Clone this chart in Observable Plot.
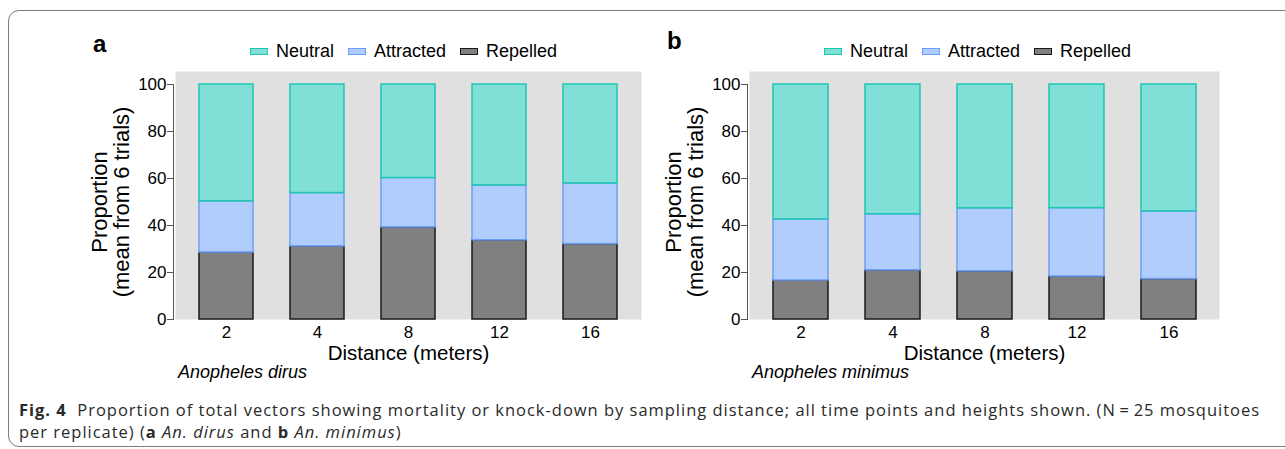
<!DOCTYPE html>
<html><head><meta charset="utf-8">
<script src="https://cdn.jsdelivr.net/npm/d3@7"></script>
<script src="https://cdn.jsdelivr.net/npm/@observablehq/plot@0.6"></script>
<style>
body{margin:0;background:#fff;width:1285px;height:449px;overflow:hidden;position:relative;font-family:"Liberation Sans",Arial,sans-serif;}
#box{position:absolute;left:8px;top:10px;width:1300px;height:437px;border:1.3px solid #7c7c7c;border-radius:11px;box-sizing:border-box;}
.panel{position:absolute;top:0;}
.plabel{position:absolute;font-weight:bold;font-size:24px;line-height:24px;color:#000}
.species{position:absolute;font-style:italic;font-size:18px;line-height:18px;top:363px;color:#000}
.legend{position:absolute;display:flex;align-items:center;font-size:18px;height:20px;top:41px;color:#000}
.legend .item{display:flex;align-items:center;margin-right:14px}
.legend .sw{width:18px;height:7px;box-sizing:border-box;border:1.3px solid;margin-right:8px}
#caption{position:absolute;left:19px;font-family:"Open Sans",sans-serif;font-size:16.5px;line-height:22.5px;color:#2a2a2a;white-space:nowrap}
#caption div{display:block}
</style></head><body>
<div id="box"></div>
<div id="root"></div>
<div id="caption"><div id="cap1"><b>Fig. 4</b>&nbsp;&nbsp;Proportion of total vectors showing mortality or knock-down by sampling distance; all time points and heights shown. (N&#8201;=&#8201;25 mosquitoes</div><div id="cap2">per replicate) (<b>a</b> <i>An. dirus</i> and <b>b</b> <i>An. minimus</i>)</div></div>
<script>
const distances = ["2", "4", "8", "12", "16"];
const stackOrder = ["Repelled", "Attracted", "Neutral"];
const legendOrder = ["Neutral", "Attracted", "Repelled"];
const fillColors = {Neutral: "#80e0d8", Attracted: "#b0cdfd", Repelled: "#808080"};
const strokeColors = {Neutral: "#1ec6b2", Attracted: "#6d9ef5", Repelled: "#1a1a1a"};
const yTicks = [0, 20, 40, 60, 80, 100];

// Panel a: An. dirus
const dirusRepelled  = [28.5, 31.1, 39.2, 33.7, 32.1];
const dirusAttracted = [21.8, 22.7, 21.0, 23.4, 25.8];
const dirusNeutral   = [49.7, 46.2, 39.8, 42.9, 42.1];
// Panel b: An. minimus
const minimusRepelled  = [16.6, 20.9, 20.5, 18.3, 17.2];
const minimusAttracted = [26.0, 23.9, 26.8, 29.1, 28.8];
const minimusNeutral   = [57.4, 55.2, 52.7, 52.6, 54.0];

function buildPanel(series, innerWidth) {
  const data = [];
  distances.forEach((d, i) => {
    stackOrder.forEach(c => data.push({distance: d, category: c, value: series[c][i]}));
  });
  return Plot.plot({
    width: 175 + innerWidth + 19, height: 390,
    marginLeft: 175, marginRight: 19, marginTop: 84, marginBottom: 71,
    style: {fontFamily: "Liberation Sans, Arial, sans-serif", fontSize: "17px", color: "#000", background: "transparent", overflow: "visible"},
    x: {domain: distances, paddingInner: 0.405, paddingOuter: 0.25},
    y: {domain: [0, 100]},
    marks: [
      Plot.frame({fill: "#e0e0e0", stroke: "none", insetTop: -13}),
      Plot.barY(data, {x: "distance", y: "value", fill: d => fillColors[d.category], stroke: d => strokeColors[d.category], strokeWidth: 1.5}),
      Plot.frame({anchor: "left", stroke: "#555", dx: -2}),
      Plot.axisY(yTicks, {tickSize: 6, tickPadding: 1, dx: -2, fontSize: 17, label: null, stroke: "#555"}),
      Plot.axisY([], {label: "Proportion\n(mean from 6 trials)", labelAnchor: "center", labelOffset: 84, labelArrow: "none", fontSize: 22, tickSize: 0}),
      Plot.axisX({tickSize: 0, tickPadding: 6, fontSize: 17, label: null}),
      Plot.axisX([], {label: "Distance (meters)", labelAnchor: "center", labelOffset: 40, labelArrow: "none", fontSize: 20.5, tickSize: 0})
    ]
  });
}

function legend(left) {
  const el = document.createElement("div");
  el.className = "legend";
  el.style.left = left + "px";
  legendOrder.forEach(c => {
    const it = document.createElement("div"); it.className = "item";
    const sw = document.createElement("div"); sw.className = "sw";
    sw.style.background = fillColors[c]; sw.style.borderColor = strokeColors[c];
    const t = document.createElement("span"); t.textContent = c;
    it.appendChild(sw); it.appendChild(t); el.appendChild(it);
  });
  return el;
}

function label(cls, text, left, top) {
  const el = document.createElement("div");
  el.className = cls; el.textContent = text; el.style.left = left + "px";
  if (top !== undefined) el.style.top = top + "px";
  return el;
}

const root = document.getElementById("root");
const panels = [
  {left: 0, inner: 466, series: {Repelled: dirusRepelled, Attracted: dirusAttracted, Neutral: dirusNeutral}, letter: "a", letterTop: 32, species: "Anopheles dirus"},
  {left: 574, inner: 470, series: {Repelled: minimusRepelled, Attracted: minimusAttracted, Neutral: minimusNeutral}, letter: "b", letterTop: 29, species: "Anopheles minimus"}
];
panels.forEach(p => {
  const wrap = document.createElement("div");
  wrap.className = "panel"; wrap.style.left = p.left + "px";
  wrap.appendChild(buildPanel(p.series, p.inner));
  root.appendChild(wrap);
  root.appendChild(legend(p.left + 250));
  root.appendChild(label("plabel", p.letter, p.left + 93, p.letterTop));
  root.appendChild(label("species", p.species, p.left + 178));
});

// fit caption line 1 to the reference width with a little letter spacing
const caption = document.getElementById("caption");
const cap1 = document.getElementById("cap1"), cap2 = document.getElementById("cap2");
const fs = 16.5, lh = 22.5;
const target = 1241;
cap1.style.display = "inline-block";
const w = cap1.getBoundingClientRect().width;
cap1.style.display = "block";
const ls = (target - w) / cap1.textContent.length;
cap1.style.letterSpacing = ls + "px";
cap2.style.letterSpacing = ls + "px";
const ascent = 1.069 * fs, content = 1.362 * fs;
caption.style.top = (416.5 - ((lh - content) / 2 + ascent)) + "px";
</script>
</body></html>
